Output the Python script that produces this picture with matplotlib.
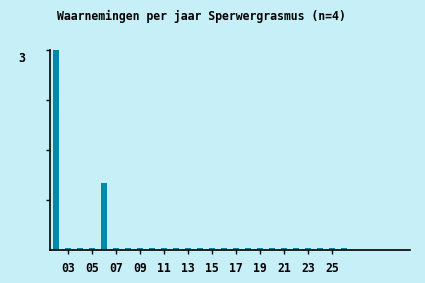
import numpy as np
import matplotlib
matplotlib.use("Agg")
import matplotlib.pyplot as plt
import matplotlib.transforms as mtransforms

# jaren (02..26) en aantal waarnemingen
jaren = np.arange(2, 27)
aantallen = np.array([3, 0, 0, 0, 1, 0, 0, 0, 0, 0, 0, 0, 0, 0, 0, 0, 0, 0, 0, 0, 0, 0, 0, 0, 0])
tick_jaren = np.arange(3, 27, 2)
tick_labels = ["%02d" % j for j in tick_jaren]
titel = "Waarnemingen per jaar Sperwergrasmus (n=4)"

bg = "#c6eff8"
kleur = "#0088aa"

fig = plt.figure(figsize=(4.25, 2.83), dpi=100, facecolor=bg)
ax = fig.add_axes([50 / 425, 33 / 283, 360 / 425, 200 / 283])
ax.set_facecolor(bg)

# nulwaarden als klein streepje tonen
hoogte = np.maximum(aantallen, 0.03)
ax.bar(jaren, hoogte, width=0.42, color=kleur)

ax.set_xlim(1.5, 31.5)
ax.set_ylim(0, 3)
ax.set_xticks(tick_jaren)
ax.set_xticklabels(tick_labels)
ax.set_yticks([0.75, 1.5, 2.25, 3])
ax.set_yticklabels(["", "", "", "3"])

for s in ["top", "right"]:
    ax.spines[s].set_visible(False)
for s in ["left", "bottom"]:
    ax.spines[s].set_linewidth(1.2)
    ax.spines[s].set_color("black")

fnt = dict(family="DejaVu Sans Mono", weight="bold", size=8.3)
ax.tick_params(axis="x", length=3, width=1, pad=6)
ax.tick_params(axis="y", length=3, width=1, pad=15)
offset = mtransforms.ScaledTranslation(0, -7 / 100, fig.dpi_scale_trans)
for lbl in ax.get_xticklabels() + ax.get_yticklabels():
    lbl.set_fontfamily(fnt["family"])
    lbl.set_fontweight("bold")
    lbl.set_fontsize(fnt["size"])
for lbl in ax.get_yticklabels():
    lbl.set_transform(lbl.get_transform() + offset)

fig.text(201 / 425, 1 - 16 / 283, titel, ha="center", va="center", **fnt)

fig.savefig("out.png", dpi=100, facecolor=bg)
